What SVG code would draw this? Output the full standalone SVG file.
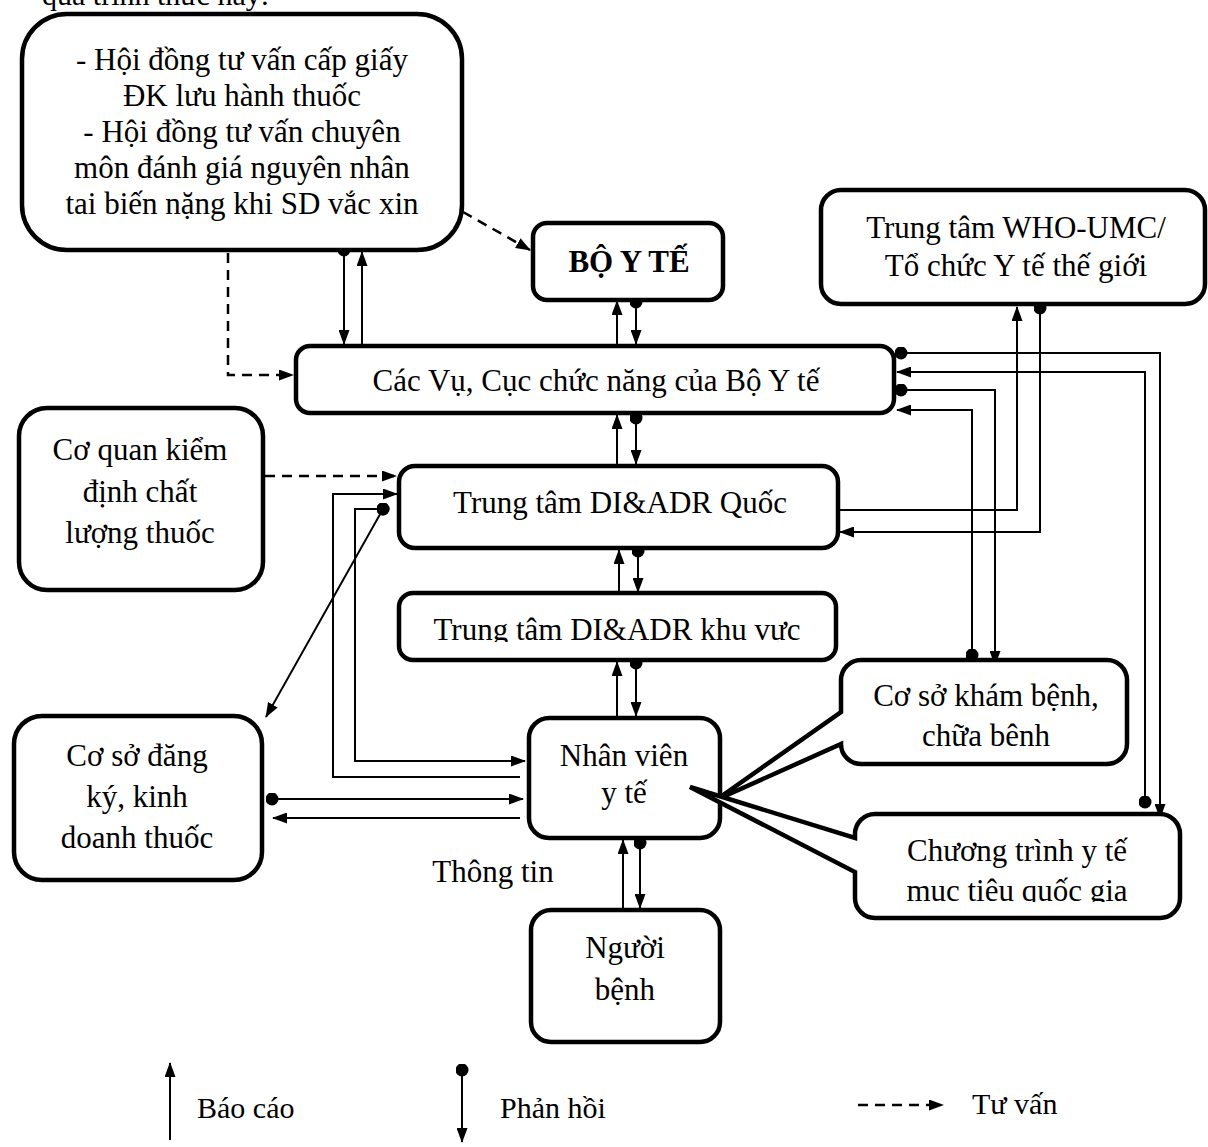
<svg xmlns="http://www.w3.org/2000/svg" width="1208" height="1147" viewBox="0 0 1208 1147">
  <style>
    .box { fill: #fff; stroke: #000; stroke-width: 4.5; }
    .t { font-family: "Liberation Serif", "Times New Roman", serif; font-size: 31px; text-anchor: middle; fill: #000; }
    .tl { font-family: "Liberation Serif", "Times New Roman", serif; font-size: 30px; fill: #000; }
    .c { fill: none; stroke: #000; stroke-width: 2; }
    .rep { marker-end: url(#arrow); }
    .fb { marker-start: url(#dot); marker-end: url(#arrow); }
    .dash { fill: none; stroke: #000; stroke-width: 2.5; stroke-dasharray: 10 7; marker-end: url(#arrow); }
  </style>
  <defs>
    <marker id="arrow" markerUnits="userSpaceOnUse" viewBox="0 0 15 11" markerWidth="15" markerHeight="11" refX="14" refY="5.5" orient="auto">
      <path d="M0,0 L15,5.5 L0,11 z" fill="#000"/>
    </marker>
    <marker id="dot" markerUnits="userSpaceOnUse" viewBox="0 0 13 13" markerWidth="13" markerHeight="13" refX="6.5" refY="6.5">
      <circle cx="6.5" cy="6.5" r="6.5" fill="#000"/>
    </marker>
    <clipPath id="clipKV"><rect x="399" y="593" width="437" height="49"/></clipPath>
    <clipPath id="clipCT"><rect x="855" y="814" width="325" height="88"/></clipPath>
  </defs>

  <rect width="1208" height="1147" fill="#fff"/>

  <!-- running text above the chart, cut by the page edge -->
  <text class="tl" x="42" y="5">quá trình thức này:</text>

  <!-- connectors -->
  <g id="connectors">
    <!-- council <-> departments -->
    <path class="c fb" d="M344,250 V344"/>
    <path class="c rep" d="M362,344 V252"/>
    <path class="dash" d="M228,253 V375 H293"/>
    <path class="dash" d="M463,212 L530,250"/>
    <!-- vertical spine -->
    <path class="c rep" d="M617,344 V301"/>
    <path class="c fb" d="M636,302 V344"/>
    <path class="c rep" d="M617,464 V415"/>
    <path class="c fb" d="M636,418 V464"/>
    <path class="c rep" d="M619,592 V550"/>
    <path class="c fb" d="M638,551 V592"/>
    <path class="c rep" d="M617,716 V662"/>
    <path class="c fb" d="M636,663 V716"/>
    <path class="c rep" d="M623,908 V840"/>
    <path class="c fb" d="M640,843 V908"/>
    <!-- left side -->
    <path class="dash" d="M265,476 H396"/>
    <path class="c fb" d="M383,509 L266,717"/>
    <path class="c rep" d="M520,777 H333 V494 H397"/>
    <path class="c fb" d="M383,509 H355 V761 H525"/>
    <path class="c fb" d="M272,799 H523"/>
    <path class="c rep" d="M520,818 H273"/>
    <!-- right side -->
    <path class="c rep" d="M838,510 H1017 V307"/>
    <path class="c fb" d="M1040,308 V532 H840"/>
    <path class="c fb" d="M901,353 H1160 V818"/>
    <path class="c fb" d="M1145,802 V372 H897"/>
    <path class="c fb" d="M901,390 H995 V665"/>
    <path class="c fb" d="M972,655 V410 H897"/>
  </g>

  <g id="hoi-dong">
    <rect class="box" x="22" y="14" width="440" height="236" rx="45"/>
    <text class="t" x="242" y="70">- Hội đồng tư vấn cấp giấy</text>
    <text class="t" x="242" y="106">ĐK lưu hành thuốc</text>
    <text class="t" x="242" y="142">- Hội đồng tư vấn chuyên</text>
    <text class="t" x="242" y="178">môn đánh giá nguyên nhân</text>
    <text class="t" x="242" y="214">tai biến nặng khi SD vắc xin</text>
  </g>

  <g id="bo-y-te">
    <rect class="box" x="533" y="223" width="190" height="77" rx="14"/>
    <text class="t" x="629" y="272" font-weight="bold" font-size="36">BỘ Y TẾ</text>
  </g>

  <g id="who-umc">
    <rect class="box" x="821" y="190" width="384" height="114" rx="20"/>
    <text class="t" x="1016" y="238">Trung tâm WHO-UMC/</text>
    <text class="t" x="1016" y="276">Tổ chức Y tế thế giới</text>
  </g>

  <g id="cac-vu">
    <rect class="box" x="296" y="346" width="598" height="67" rx="14"/>
    <text class="t" x="596" y="391">Các Vụ, Cục chức năng của Bộ Y tế</text>
  </g>

  <g id="kiem-dinh">
    <rect class="box" x="19" y="408" width="244" height="182" rx="28"/>
    <text class="t" x="140" y="460">Cơ quan kiểm</text>
    <text class="t" x="140" y="502">định chất</text>
    <text class="t" x="140" y="543">lượng thuốc</text>
  </g>

  <g id="di-adr-quoc">
    <rect class="box" x="399" y="466" width="439" height="82" rx="16"/>
    <text class="t" x="620" y="513">Trung tâm DI&amp;ADR Quốc</text>
  </g>

  <g id="di-adr-khu-vuc">
    <rect class="box" x="399" y="593" width="437" height="67" rx="14"/>
    <text class="t" x="617" y="640" clip-path="url(#clipKV)">Trung tâm DI&amp;ADR khu vực</text>
  </g>

  <g id="co-so-kham">
    <path class="box" d="M861,660 H1107 A20,20 0 0 1 1127,680 V744 A20,20 0 0 1 1107,764 H861 A20,20 0 0 1 841,744 L716,800 L841,712 V680 A20,20 0 0 1 861,660 Z"/>
    <text class="t" x="986" y="706">Cơ sở khám bệnh,</text>
    <text class="t" x="986" y="746">chữa bênh</text>
  </g>

  <g id="nhan-vien">
    <rect class="box" x="529" y="718" width="191" height="120" rx="20"/>
    <text class="t" x="624" y="766">Nhân viên</text>
    <text class="t" x="624" y="803">y tế</text>
  </g>

  <g id="dang-ky">
    <rect class="box" x="14" y="716" width="248" height="164" rx="28"/>
    <text class="t" x="137" y="766">Cơ sở đăng</text>
    <text class="t" x="137" y="807">ký, kinh</text>
    <text class="t" x="137" y="848">doanh thuốc</text>
  </g>

  <g id="chuong-trinh">
    <path class="box" d="M875,814 H1160 A20,20 0 0 1 1180,834 V898 A20,20 0 0 1 1160,918 H875 A20,20 0 0 1 855,898 V872 L690,787 L855,838 V834 A20,20 0 0 1 875,814 Z"/>
    <text class="t" x="1017" y="861">Chương trình y tế</text>
    <text class="t" x="1017" y="901" clip-path="url(#clipCT)">mục tiêu quốc gia</text>
  </g>

  <g id="nguoi-benh">
    <rect class="box" x="531" y="910" width="189" height="132" rx="20"/>
    <text class="t" x="625" y="958">Người</text>
    <text class="t" x="625" y="1000">bệnh</text>
  </g>

  <text id="thong-tin" class="t" x="493" y="882">Thông tin</text>

  <!-- legend -->
  <g id="legend">
    <path class="c rep" d="M170,1140 V1063"/>
    <text class="tl" x="197" y="1118">Báo cáo</text>
    <path class="c fb" d="M462,1070 V1142"/>
    <text class="tl" x="500" y="1118">Phản hồi</text>
    <path class="dash" d="M858,1105 H943" stroke-dasharray="7 5" stroke-width="2"/>
    <text class="tl" x="972" y="1114">Tư vấn</text>
  </g>
</svg>
